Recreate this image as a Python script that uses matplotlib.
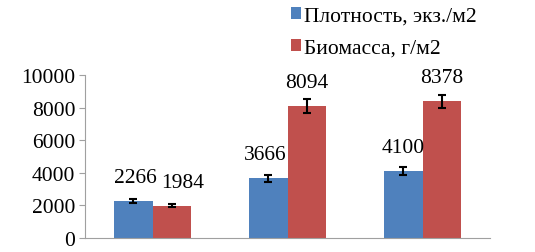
import numpy as np
import matplotlib.pyplot as plt

# Data
groups = ['1', '2', '3']
density = [2266, 3666, 4100]
density_err = [100, 220, 230]
biomass = [1984, 8094, 8378]
biomass_err = [100, 400, 420]
series_names = ['Плотность, экз./м2', 'Биомасса, г/м2']

plt.rcParams['font.family'] = ['Liberation Serif', 'DejaVu Serif']
fs = 15.5

fig = plt.figure(figsize=(5.35, 2.53), dpi=100)
ax = fig.add_axes([0.159, 0.055, 0.757, 0.645])

x = np.arange(len(groups))
w = 0.285
b1 = ax.bar(x - w / 2, density, w, color='#4F81BD', label=series_names[0],
            yerr=density_err, error_kw=dict(ecolor='black', elinewidth=1.5, capsize=3, capthick=1.5))
b2 = ax.bar(x + w / 2, biomass, w, color='#C0504D', label=series_names[1],
            yerr=biomass_err, error_kw=dict(ecolor='black', elinewidth=1.5, capsize=3, capthick=1.5))

# value labels above bars (second label of first group nudged right as in the original)
for bars, vals, dx in [(b1, density, [2, -3, 0]), (b2, biomass, [11, 0, 0])]:
    for rect, v, d in zip(bars, vals, dx):
        ax.annotate(str(v), (rect.get_x() + rect.get_width() / 2, v),
                    xytext=(d * 0.72, 10), textcoords='offset points',
                    ha='center', va='bottom', fontsize=fs)

ax.set_xlim(-0.5, 2.5)
ax.set_ylim(0, 10000)
ax.set_yticks(range(0, 10001, 2000))
ax.set_xticks([])
ax.tick_params(axis='y', labelsize=fs, length=4, color='#a0a0a0', pad=3)
for s in ['top', 'right']:
    ax.spines[s].set_visible(False)
for s in ['left', 'bottom']:
    ax.spines[s].set_color('#a0a0a0')

fig.legend(handles=[b1, b2], labels=series_names, loc='upper left',
           bbox_to_anchor=(0.543, 0.97), frameon=False, fontsize=fs,
           handlelength=0.5, handleheight=0.5, handletextpad=0.15, labelspacing=0.6,
           borderaxespad=0, borderpad=0)

fig.savefig('out.png', dpi=100)
